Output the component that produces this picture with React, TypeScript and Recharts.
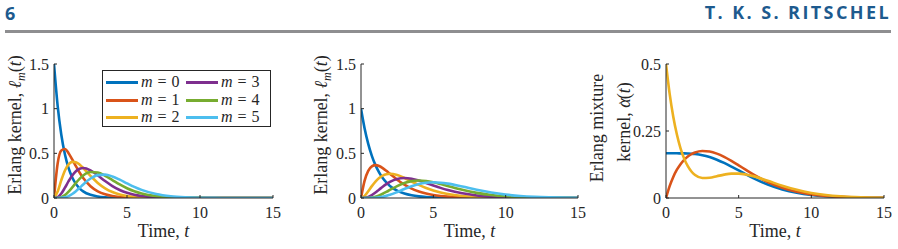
import React from "react";
import { LineChart, Line, XAxis, YAxis } from "recharts";

// time grid shared by every curve
const time = [0, 0.25, 0.5, 0.75, 1, 1.25, 1.5, 1.75, 2, 2.5, 3, 3.5, 4, 4.5, 5, 5.5, 6, 7, 8, 9, 10, 11, 12, 13, 14, 15];

// Erlang kernels, rate 1.5
const fastM0 = [1.5, 1.031, 0.7086, 0.487, 0.3347, 0.23, 0.158, 0.1086, 0.0747, 0.0353, 0.0167, 0.0079, 0.0037, 0.0018, 0.0008, 0.0004, 0.0002, 0, 0, 0, 0, 0, 0, 0, 0, 0];
const fastM1 = [0, 0.3866, 0.5315, 0.548, 0.502, 0.4314, 0.3558, 0.2851, 0.224, 0.1323, 0.075, 0.0413, 0.0223, 0.0119, 0.0062, 0.0032, 0.0017, 0.0004, 0.0001, 0, 0, 0, 0, 0, 0, 0];
const fastM2 = [0, 0.0725, 0.1993, 0.308, 0.3765, 0.4044, 0.4002, 0.3742, 0.3361, 0.2481, 0.1687, 0.1085, 0.0669, 0.04, 0.0233, 0.0133, 0.0075, 0.0023, 0.0007, 0.0002, 0.0001, 0, 0, 0, 0, 0];
const fastM3 = [0, 0.0091, 0.0498, 0.1156, 0.1883, 0.2528, 0.3002, 0.3275, 0.3361, 0.3101, 0.2531, 0.1898, 0.1339, 0.09, 0.0583, 0.0366, 0.0225, 0.008, 0.0027, 0.0008, 0.0003, 0.0001, 0, 0, 0, 0];
const fastM4 = [0, 0.0008, 0.0093, 0.0325, 0.0706, 0.1185, 0.1689, 0.2149, 0.2521, 0.2907, 0.2847, 0.2492, 0.2008, 0.152, 0.1094, 0.0756, 0.0506, 0.0209, 0.008, 0.0028, 0.001, 0.0003, 0.0001, 0, 0, 0];
const fastM5 = [0, 0.0001, 0.0014, 0.0073, 0.0212, 0.0444, 0.076, 0.1128, 0.1512, 0.218, 0.2562, 0.2616, 0.241, 0.2051, 0.1641, 0.1247, 0.0911, 0.0439, 0.0191, 0.0077, 0.0029, 0.001, 0.0004, 0.0001, 0, 0];

// Erlang kernels, rate 1
const slowM0 = [1, 0.7788, 0.6065, 0.4724, 0.3679, 0.2865, 0.2231, 0.1738, 0.1353, 0.0821, 0.0498, 0.0302, 0.0183, 0.0111, 0.0067, 0.0041, 0.0025, 0.0009, 0.0003, 0.0001, 0, 0, 0, 0, 0, 0];
const slowM1 = [0, 0.1947, 0.3033, 0.3543, 0.3679, 0.3581, 0.3347, 0.3041, 0.2707, 0.2052, 0.1494, 0.1057, 0.0733, 0.05, 0.0337, 0.0225, 0.0149, 0.0064, 0.0027, 0.0011, 0.0005, 0.0002, 0.0001, 0, 0, 0];
const slowM2 = [0, 0.0243, 0.0758, 0.1329, 0.1839, 0.2238, 0.251, 0.2661, 0.2707, 0.2565, 0.224, 0.185, 0.1465, 0.1125, 0.0842, 0.0618, 0.0446, 0.0223, 0.0107, 0.005, 0.0023, 0.001, 0.0004, 0.0002, 0.0001, 0];
const slowM3 = [0, 0.002, 0.0126, 0.0332, 0.0613, 0.0933, 0.1255, 0.1552, 0.1804, 0.2138, 0.224, 0.2158, 0.1954, 0.1687, 0.1404, 0.1133, 0.0892, 0.0521, 0.0286, 0.015, 0.0076, 0.0037, 0.0018, 0.0008, 0.0004, 0.0002];
const slowM4 = [0, 0.0001, 0.0016, 0.0062, 0.0153, 0.0291, 0.0471, 0.0679, 0.0902, 0.1336, 0.168, 0.1888, 0.1954, 0.1898, 0.1755, 0.1558, 0.1339, 0.0912, 0.0573, 0.0337, 0.0189, 0.0102, 0.0053, 0.0027, 0.0013, 0.0006];
const slowM5 = [0, 0, 0.0002, 0.0009, 0.0031, 0.0073, 0.0141, 0.0238, 0.0361, 0.0668, 0.1008, 0.1322, 0.1563, 0.1708, 0.1755, 0.1714, 0.1606, 0.1277, 0.0916, 0.0607, 0.0378, 0.0224, 0.0127, 0.007, 0.0037, 0.0019];

// mixture kernels
const mixA = [0.1667, 0.1667, 0.1667, 0.1667, 0.1666, 0.1664, 0.1659, 0.1652, 0.1639, 0.1597, 0.1527, 0.143, 0.1309, 0.1172, 0.1027, 0.0882, 0.0743, 0.0501, 0.0319, 0.0193, 0.0112, 0.0063, 0.0034, 0.0018, 0.0009, 0.0005];
const mixB = [0, 0.0442, 0.0787, 0.1055, 0.1263, 0.1423, 0.1545, 0.1634, 0.1696, 0.1752, 0.1732, 0.1655, 0.1534, 0.1384, 0.1219, 0.105, 0.0886, 0.0599, 0.0382, 0.0231, 0.0134, 0.0075, 0.0041, 0.0021, 0.0011, 0.0005];
const mixC = [0.5, 0.3894, 0.3034, 0.2367, 0.1855, 0.1469, 0.1186, 0.0988, 0.0857, 0.0745, 0.0753, 0.0812, 0.0873, 0.091, 0.0911, 0.0878, 0.0816, 0.0643, 0.046, 0.0304, 0.0189, 0.0112, 0.0064, 0.0035, 0.0019, 0.001];

const xTicks = [0, 5, 10, 15];
const kernelTicks = [0, 0.5, 1, 1.5];
const mixTicks = [0, 0.25, 0.5];
const orders = [0, 1, 2, 3, 4, 5];

const COLORS = ["#0072BD", "#D95319", "#EDB120", "#7E2F8E", "#77AC30", "#4DBEEE"];
const AXIS = "#262626";
const SERIF = "Liberation Serif, serif";
const HEAD = "#1d5a8e";

const table = (cols: number[][]) =>
  time.map((t, i) => {
    const row: Record<string, number> = { t };
    cols.forEach((c, k) => (row["s" + k] = c[i]));
    return row;
  });

const fastData = table([fastM0, fastM1, fastM2, fastM3, fastM4, fastM5]);
const slowData = table([slowM0, slowM1, slowM2, slowM3, slowM4, slowM5]);
const mixData = table([mixA, mixB, mixC]);

const BottomTick = ({ x, y, payload }: any) => (
  <g>
    <line x1={x} x2={x} y1={y} y2={y - 3} stroke={AXIS} />
    <text x={x} y={y + 20} textAnchor="middle" fill={AXIS} style={{ fontFamily: SERIF, fontSize: 16 }}>
      {payload.value}
    </text>
  </g>
);
const TopTick = ({ x, y }: any) => <line x1={x} x2={x} y1={y} y2={y + 3} stroke={AXIS} />;
const LeftTick = ({ x, y, payload }: any) => (
  <g>
    <line x1={x} x2={x + 3} y1={y} y2={y} stroke={AXIS} />
    <text x={x - 5} y={y + 5.5} textAnchor="end" fill={AXIS} style={{ fontFamily: SERIF, fontSize: 16 }}>
      {payload.value}
    </text>
  </g>
);
const RightTick = ({ x, y }: any) => <line x1={x} x2={x - 3} y1={y} y2={y} stroke={AXIS} />;

const TimeTitle = ({ viewBox }: any) => (
  <text
    x={viewBox.x + viewBox.width / 2}
    y={viewBox.y + 39}
    textAnchor="middle"
    fill={AXIS}
    style={{ fontFamily: SERIF, fontSize: 18 }}
  >
    Time, <tspan fontStyle="italic">t</tspan>
  </text>
);

type PanelProps = {
  left: number;
  width: number;
  margin: { top: number; right: number; bottom: number; left: number };
  data: Record<string, number>[];
  count: number;
  yMax: number;
  yTicks: number[];
};

function Panel({ left, width, margin, data, count, yMax, yTicks }: PanelProps) {
  return (
    <div style={{ position: "absolute", left, top: 0 }}>
      <LineChart width={width} height={249} data={data} margin={margin}>
        <XAxis
          dataKey="t"
          type="number"
          domain={[0, 15]}
          ticks={xTicks}
          allowDataOverflow
          height={40}
          tickSize={0}
          tickMargin={0}
          tickLine={false}
          axisLine={{ stroke: AXIS }}
          tick={(p: any) => <BottomTick {...p} />}
          label={<TimeTitle />}
        />
        <XAxis
          xAxisId="top"
          orientation="top"
          dataKey="t"
          type="number"
          domain={[0, 15]}
          ticks={xTicks}
          allowDataOverflow
          height={0}
          tickSize={0}
          tickMargin={0}
          tickLine={false}
          axisLine={{ stroke: AXIS }}
          tick={(p: any) => <TopTick {...p} />}
        />
        <YAxis
          type="number"
          domain={[0, yMax]}
          ticks={yTicks}
          allowDataOverflow
          width={40}
          tickSize={0}
          tickMargin={0}
          tickLine={false}
          axisLine={{ stroke: AXIS }}
          tick={(p: any) => <LeftTick {...p} />}
        />
        <YAxis
          yAxisId="right"
          orientation="right"
          type="number"
          domain={[0, yMax]}
          ticks={yTicks}
          allowDataOverflow
          width={0}
          tickSize={0}
          tickMargin={0}
          tickLine={false}
          axisLine={{ stroke: AXIS }}
          tick={(p: any) => <RightTick {...p} />}
        />
        {Array.from({ length: count }, (_, k) => (
          <Line
            key={k}
            type="monotone"
            dataKey={"s" + k}
            stroke={COLORS[k]}
            strokeWidth={2.6}
            dot={false}
            isAnimationActive={false}
          />
        ))}
      </LineChart>
    </div>
  );
}

function KernelLegend() {
  const rowY = [12, 30, 47];
  return (
    <div
      style={{
        position: "absolute",
        left: 102,
        top: 70,
        width: 169,
        height: 57,
        border: `1px solid ${AXIS}`,
        background: "#fff",
        boxSizing: "border-box",
      }}
    >
      {orders.map((m) => {
        const col = m < 3 ? 0 : 1;
        const y = rowY[m % 3];
        const lx = col === 0 ? 3 : 83;
        return (
          <React.Fragment key={m}>
            <div
              style={{
                position: "absolute",
                left: lx,
                top: y - 2,
                width: 32,
                height: 3,
                background: COLORS[m],
              }}
            />
            <div
              style={{
                position: "absolute",
                left: lx + 35,
                top: y - 10,
                fontFamily: SERIF,
                fontSize: 16,
                lineHeight: "18px",
                color: AXIS,
                whiteSpace: "nowrap",
              }}
            >
              <i>m</i>
              <span style={{ margin: "0 5px" }}>=</span>
              {m}
            </div>
          </React.Fragment>
        );
      })}
    </div>
  );
}

function KernelTitle({ x }: { x: number }) {
  return (
    <text x={x} y={125} transform={`rotate(-90 ${x} 125)`} textAnchor="middle" fill={AXIS} style={{ fontFamily: SERIF, fontSize: 18 }}>
      Erlang kernel, <tspan fontStyle="italic">ℓ</tspan>
      <tspan fontStyle="italic" fontSize={12} dy={4}>m</tspan>
      <tspan dy={-4}>(</tspan>
      <tspan fontStyle="italic">t</tspan>)
    </text>
  );
}

function Decorations() {
  return (
    <svg width={898} height={249} style={{ position: "absolute", left: 0, top: 0, pointerEvents: "none" }}>
      <text x={5} y={20} fill={HEAD} fontFamily="Open Sans, sans-serif" fontWeight={700} fontSize={18}>
        6
      </text>
      <text
        x={891}
        y={18.5}
        textAnchor="end"
        fill={HEAD}
        fontFamily="Open Sans, sans-serif"
        fontWeight={700}
        fontSize={18}
        letterSpacing={2.4}
      >
        T. K. S. RITSCHEL
      </text>
      <rect x={5} y={30} width={886} height={3} fill="#8e8e90" />

      <KernelTitle x={21} />
      <KernelTitle x={327} />

      <text x={603} y={128} transform="rotate(-90 603 128)" textAnchor="middle" fill={AXIS} style={{ fontFamily: SERIF, fontSize: 18 }}>
        Erlang mixture
      </text>
      <text x={630} y={122} transform="rotate(-90 630 122)" textAnchor="middle" fill={AXIS} style={{ fontFamily: SERIF, fontSize: 18 }}>
        kernel, <tspan fontStyle="italic">α</tspan>
        <tspan dx={-8} dy={-3} fontSize={13}>^</tspan>
        <tspan dx={1} dy={3}>(</tspan>
        <tspan fontStyle="italic">t</tspan>)
      </text>
    </svg>
  );
}

export default function App() {
  return (
    <div style={{ position: "fixed", left: 0, top: 0, width: 898, height: 249, background: "#fff" }}>
      <Panel left={0} width={290} margin={{ top: 64, right: 17, bottom: 11, left: 14 }} data={fastData} count={6} yMax={1.5} yTicks={kernelTicks} />
      <Panel left={300} width={290} margin={{ top: 64, right: 12, bottom: 11, left: 21 }} data={slowData} count={6} yMax={1.5} yTicks={kernelTicks} />
      <Panel left={598} width={300} margin={{ top: 64, right: 14, bottom: 11, left: 28 }} data={mixData} count={3} yMax={0.5} yTicks={mixTicks} />
      <KernelLegend />
      <Decorations />
    </div>
  );
}
